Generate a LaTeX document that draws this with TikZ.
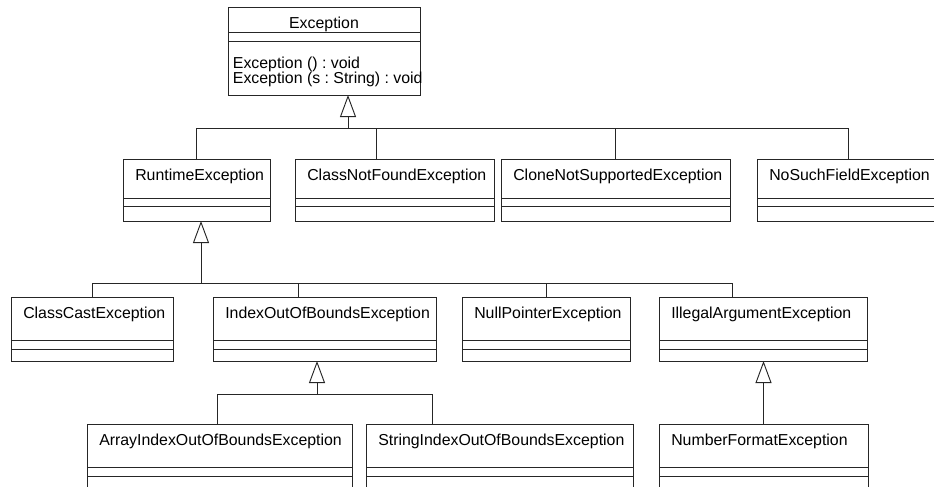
\documentclass[tikz,border=0pt]{standalone}
\usepackage{fontspec}
\setmainfont{Liberation Sans}
\usetikzlibrary{arrows.meta}
\frenchspacing

\tikzset{
  classbox/.style={draw=black!85, line width=0.7pt, rectangle, inner sep=0pt, outer sep=0pt, anchor=north west},
  classname/.style={anchor=base west, inner sep=0pt, font=\fontsize{11.9}{14}\selectfont},
  inherit/.style={draw=black!85, line width=0.7pt, -{Triangle[open, length=16.5pt, width=12pt]}},
  link/.style={draw=black!85, line width=0.7pt}
}

% id, x, y, width, name height, attribute height, total height, name
\newcommand{\umlclass}[8]{%
  \node [classbox, minimum width={#4*0.75pt}, minimum height={#7*0.75pt}] (#1) at (#2,#3) {};
  \draw [link] (#1.north west) ++(0,#5) -- ++(#4,0);
  \draw [link] (#1.north west) ++(0,#5+#6) -- ++(#4,0);
  \path (#1.north west) ++(12,21.5) node [classname] (#1-name) {#8};
}

\begin{document}
\begin{tikzpicture}[x=0.75pt,y=0.75pt,yscale=-1,xscale=1]
\clip (0,0) rectangle (934,486);

%Shape: Class Exception
\node [classbox, minimum width={192*0.75pt}, minimum height={88*0.75pt}] (exc) at (228,7) {};
\draw [link] (exc.north west) ++(0,25) -- ++(192,0);
\draw [link] (exc.north west) ++(0,34) -- ++(192,0);
% Text Node
\path (exc.north) ++(0,21) node [classname, anchor=base] (exc-name) {Exception};
% Text Node
\path (exc.north west) ++(4.7,61.3) node [classname] (exc-m1) {Exception () : void};
% Text Node
\path (exc.north west) ++(4.7,76.3) node [classname] (exc-m2) {Exception (s : String) : void};

%Shape: Classes, second row
\umlclass{rte}{123}{159}{147}{39}{8}{62}{RuntimeException}
\umlclass{cnf}{295}{159}{199}{39}{8}{62}{ClassNotFoundException}
\umlclass{cns}{501}{159}{229}{39}{8}{62}{CloneNotSupportedException}
\umlclass{nsf}{757}{159}{182}{39}{8}{62}{NoSuchFieldException}

%Shape: Classes, third row
\umlclass{cce}{11}{297}{162}{43}{9}{64}{ClassCastException}
\umlclass{ioobe}{213}{297}{223}{43}{9}{64}{IndexOutOfBoundsException}
\umlclass{npe}{462}{297}{168}{43}{9}{64}{NullPointerException}
\umlclass{iae}{659}{297}{208}{43}{9}{64}{IllegalArgumentException}

%Shape: Classes, fourth row
\umlclass{aioobe}{87}{424}{265}{43}{9}{80}{ArrayIndexOutOfBoundsException}
\umlclass{sioobe}{366}{424}{267}{43}{9}{80}{StringIndexOutOfBoundsException}
\umlclass{nfe}{659}{424}{209}{43}{9}{80}{NumberFormatException}

% junctions
\coordinate (j0) at (348,128);
\coordinate (j1) at (201,283);
\coordinate (j2) at (317,394);

%Straight Lines: Exception
\draw [inherit] (j0) -- (j0 |- exc.south);
\draw [link] (rte.north) |- (j0);
\draw [link] (cnf.north west) ++(81,0) |- (j0);
\draw [link] (cns.north) |- (j0);
\draw [link] (nsf.north west) ++(91,0) |- (j0);

%Straight Lines: RuntimeException
\draw [inherit] (j1) -- (j1 |- rte.south);
\draw [link] (cce.north) |- (j1);
\draw [link] (ioobe.north west) ++(85,0) |- (j1);
\draw [link] (npe.north) |- (j1);
\draw [link] (iae.north west) ++(73,0) |- (j1);

%Straight Lines: IndexOutOfBoundsException
\draw [inherit] (j2) -- (j2 |- ioobe.south);
\draw [link] (aioobe.north west) ++(130,0) |- (j2);
\draw [link] (sioobe.north west) ++(66,0) |- (j2);

%Straight Lines: IllegalArgumentException
\draw [inherit] (nfe.north) -- (nfe.north |- iae.south);
\end{tikzpicture}
\end{document}
